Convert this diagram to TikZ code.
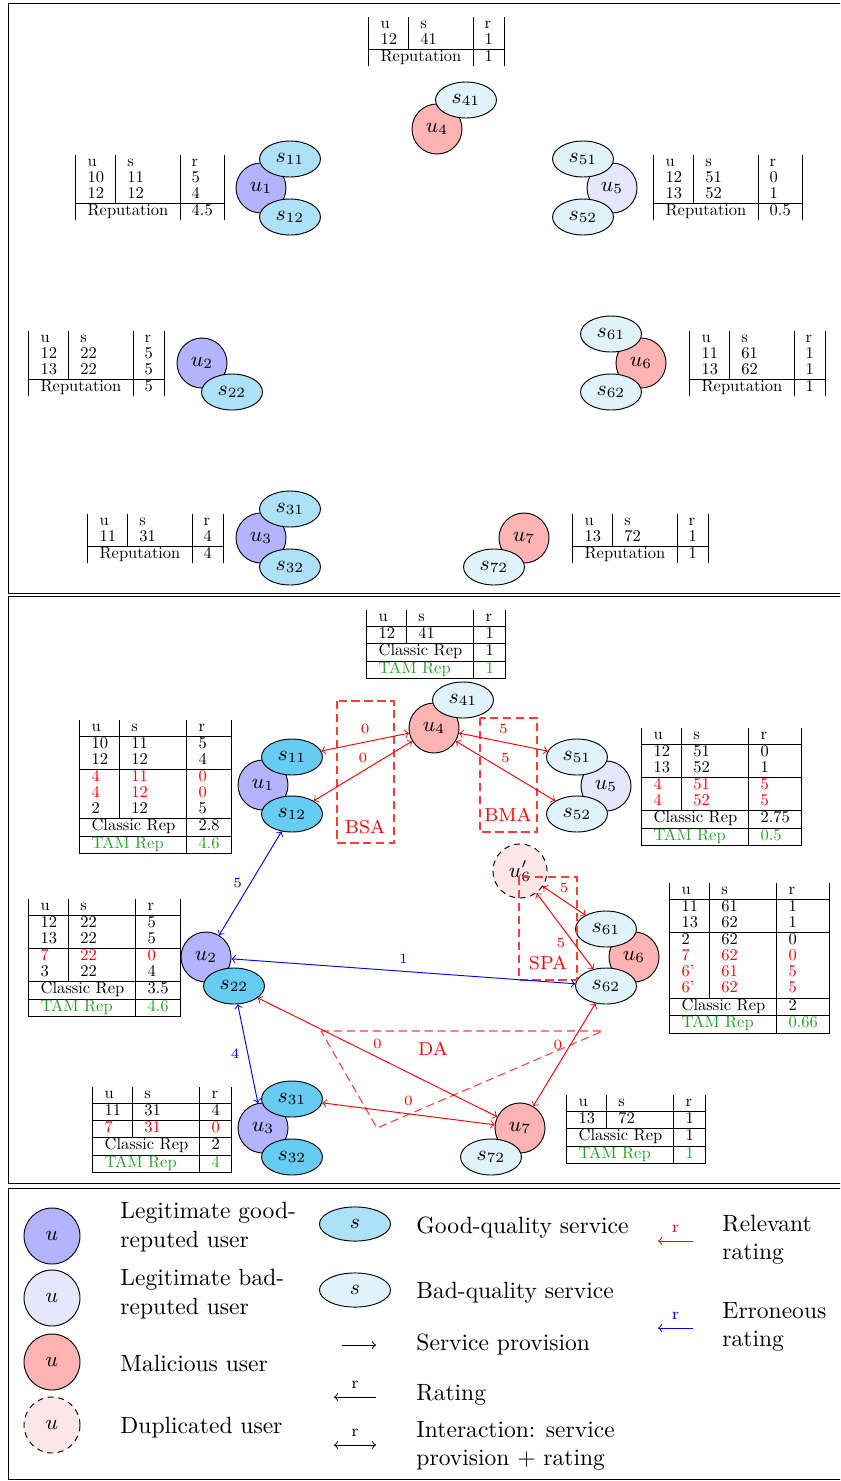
\documentclass[tikz,border=0pt]{standalone}
\usepackage{array}
\usepackage{graphicx}
\usetikzlibrary{shapes.geometric}
\definecolor{goodA}{RGB}{173,225,247}
\definecolor{goodB}{RGB}{102,204,242}
\definecolor{badS}{RGB}{224,243,250}
\definecolor{ugood}{RGB}{179,179,255}
\definecolor{ubad}{RGB}{230,230,255}
\definecolor{umal}{RGB}{255,179,179}
\definecolor{udup}{RGB}{255,230,230}
\definecolor{tamgreen}{RGB}{40,160,40}
\definecolor{boxred}{RGB}{255,60,60}
\newcommand\lblfont{\fontsize{6pt}{7pt}\selectfont}
\newcommand\myR[1]{\textcolor{red}{#1}}
\newcommand\myG[1]{\textcolor{tamgreen}{#1}}
\newcommand\mytab[1]{\scalebox{0.7}{\fontsize{10pt}{9.7pt}\selectfont\setlength\tabcolsep{6.8pt}\setlength\arrayrulewidth{0.57pt}\begin{tabular}{|l|l|l|}#1\end{tabular}}}
\tikzset{
  user/.style={circle, draw, minimum size=21.25pt, inner sep=0pt, font=\small},
  serv/.style={ellipse, draw, minimum width=25.9pt, minimum height=15.3pt, inner sep=0pt, font=\small},
  luser/.style={circle, draw, minimum size=23.8pt, inner sep=0pt, font=\small},
  lserv/.style={ellipse, draw, minimum width=30.2pt, minimum height=14.5pt, inner sep=0pt, font=\small},
  dup/.style={dash pattern=on 2.5pt off 2pt},
  tbl/.style={anchor=north west, inner sep=0pt},
  redge/.style={red, <->, >=to},
  bedge/.style={blue, <->, >=to},
  elbl/.style={font=\lblfont},
  attbox/.style={draw=boxred, line width=0.45pt, dash pattern=on 3.5pt off 2pt},
  attlbl/.style={text=red, font=\footnotesize},
  ltext/.style={anchor=west, inner sep=0pt, align=left},
}
\begin{document}
\begin{tikzpicture}[x=0.425pt, y=-0.425pt]
\useasboundingbox (0,0) rectangle (840,1481);
\clip (0,0) rectangle (840,1481);
% frames
\draw (8,3) rectangle (850,593);
\draw (8,596) rectangle (850,1183);
\draw (8,1188) rectangle (850,1479);

% ===== Panel 1 =====
\node[user, fill=umal] (u4a) at (437,129) {$u_4$};
\node[serv, fill=badS] (s41a) at (466,100) {$s_{41}$};
\node[user, fill=ugood] (u1a) at (261,188) {$u_1$};
\node[serv, fill=goodA] (s11a) at (290,159) {$s_{11}$};
\node[serv, fill=goodA] (s12a) at (290,217) {$s_{12}$};
\node[user, fill=ubad] (u5a) at (612,188) {$u_5$};
\node[serv, fill=badS] (s51a) at (583,159) {$s_{51}$};
\node[serv, fill=badS] (s52a) at (583,217) {$s_{52}$};
\node[user, fill=ugood] (u2a) at (202,363) {$u_2$};
\node[serv, fill=goodA] (s22a) at (232,392) {$s_{22}$};
\node[user, fill=umal] (u6a) at (641,363) {$u_6$};
\node[serv, fill=badS] (s61a) at (611,334) {$s_{61}$};
\node[serv, fill=badS] (s62a) at (611,392) {$s_{62}$};
\node[user, fill=ugood] (u3a) at (261,538) {$u_3$};
\node[serv, fill=goodA] (s31a) at (290,509) {$s_{31}$};
\node[serv, fill=goodA] (s32a) at (290,567) {$s_{32}$};
\node[user, fill=umal] (u7a) at (524,538) {$u_7$};
\node[serv, fill=badS] (s72a) at (494,567) {$s_{72}$};

\node[tbl] (t4a) at (368,17) {\mytab{u & s & r\\ 12 & 41 & 1\\ \hline \multicolumn{2}{|l|}{Reputation} & 1}};
\node[tbl] (t1a) at (75,155) {\mytab{u & s & r\\ 10 & 11 & 5\\ 12 & 12 & 4\\ \hline \multicolumn{2}{|l|}{Reputation} & 4.5}};
\node[tbl] (t5a) at (653,155) {\mytab{u & s & r\\ 12 & 51 & 0\\ 13 & 52 & 1\\ \hline \multicolumn{2}{|l|}{Reputation} & 0.5}};
\node[tbl] (t2a) at (28,331) {\mytab{u & s & r\\ 12 & 22 & 5\\ 13 & 22 & 5\\ \hline \multicolumn{2}{|l|}{Reputation} & 5}};
\node[tbl] (t6a) at (689,331) {\mytab{u & s & r\\ 11 & 61 & 1\\ 13 & 62 & 1\\ \hline \multicolumn{2}{|l|}{Reputation} & 1}};
\node[tbl] (t3a) at (87,514) {\mytab{u & s & r\\ 11 & 31 & 4\\ \hline \multicolumn{2}{|l|}{Reputation} & 4}};
\node[tbl] (t7a) at (572,514) {\mytab{u & s & r\\ 13 & 72 & 1\\ \hline \multicolumn{2}{|l|}{Reputation} & 1}};

% ===== Panel 2 =====
\node[user, fill=umal] (u4b) at (434,728) {$u_4$};
\node[serv, fill=badS] (s41b) at (463,700) {$s_{41}$};
\node[user, fill=ugood] (u1b) at (263,785) {$u_1$};
\node[serv, fill=goodB] (s11b) at (292,757) {$s_{11}$};
\node[serv, fill=goodB] (s12b) at (292,814) {$s_{12}$};
\node[user, fill=ubad] (u5b) at (606,786) {$u_5$};
\node[serv, fill=badS] (s51b) at (577,757) {$s_{51}$};
\node[serv, fill=badS] (s52b) at (577,814) {$s_{52}$};
\node[user, fill=ugood] (u2b) at (206,957) {$u_2$};
\node[serv, fill=goodB] (s22b) at (234,986) {$s_{22}$};
\node[user, fill=umal] (u6b) at (634,957) {$u_6$};
\node[serv, fill=badS] (s61b) at (606,929) {$s_{61}$};
\node[serv, fill=badS] (s62b) at (606,986) {$s_{62}$};
\node[user, dup, fill=udup, minimum size=23pt] (u6p) at (520,871) {$u'_6$};
\node[user, fill=ugood] (u3b) at (263,1128) {$u_3$};
\node[serv, fill=goodB] (s31b) at (292,1099) {$s_{31}$};
\node[serv, fill=goodB] (s32b) at (292,1157) {$s_{32}$};
\node[user, fill=umal] (u7b) at (520,1128) {$u_7$};
\node[serv, fill=badS] (s72b) at (491,1157) {$s_{72}$};

\node[tbl] (t4b) at (366,610) {\mytab{u & s & r\\ \hline 12 & 41 & 1\\ \hline \multicolumn{2}{|l|}{Classic Rep} & 1\\ \hline \multicolumn{2}{|l|}{\myG{TAM Rep}} & \myG{1}\\ \hline}};
\node[tbl] (t1b) at (79,720) {\mytab{u & s & r\\ \hline 10 & 11 & 5\\ 12 & 12 & 4\\ \hline \myR{4} & \myR{11} & \myR{0}\\ \myR{4} & \myR{12} & \myR{0}\\ 2 & 12 & 5\\ \hline \multicolumn{2}{|l|}{Classic Rep} & 2.8\\ \hline \multicolumn{2}{|l|}{\myG{TAM Rep}} & \myG{4.6}\\ \hline}};
\node[tbl] (t5b) at (641,728) {\mytab{u & s & r\\ \hline 12 & 51 & 0\\ 13 & 52 & 1\\ \hline \myR{4} & \myR{51} & \myR{5}\\ \myR{4} & \myR{52} & \myR{5}\\ \hline \multicolumn{2}{|l|}{Classic Rep} & 2.75\\ \hline \multicolumn{2}{|l|}{\myG{TAM Rep}} & \myG{0.5}\\ \hline}};
\node[tbl] (t2b) at (28,899) {\mytab{u & s & r\\ \hline 12 & 22 & 5\\ 13 & 22 & 5\\ \hline \myR{7} & \myR{22} & \myR{0}\\ 3 & 22 & 4\\ \hline \multicolumn{2}{|l|}{Classic Rep} & 3.5\\ \hline \multicolumn{2}{|l|}{\myG{TAM Rep}} & \myG{4.6}\\ \hline}};
\node[tbl] (t6b) at (669,883) {\mytab{u & s & r\\ \hline 11 & 61 & 1\\ 13 & 62 & 1\\ \hline 2 & 62 & 0\\ \myR{7} & \myR{62} & \myR{0}\\ \myR{6'} & \myR{61} & \myR{5}\\ \myR{6'} & \myR{62} & \myR{5}\\ \hline \multicolumn{2}{|l|}{Classic Rep} & 2\\ \hline \multicolumn{2}{|l|}{\myG{TAM Rep}} & \myG{0.66}\\ \hline}};
\node[tbl] (t3b) at (92,1087) {\mytab{u & s & r\\ \hline 11 & 31 & 4\\ \hline \myR{7} & \myR{31} & \myR{0}\\ \hline \multicolumn{2}{|l|}{Classic Rep} & 2\\ \hline \multicolumn{2}{|l|}{\myG{TAM Rep}} & \myG{4}\\ \hline}};
\node[tbl] (t7b) at (566,1095) {\mytab{u & s & r\\ \hline 13 & 72 & 1\\ \hline \multicolumn{2}{|l|}{Classic Rep} & 1\\ \hline \multicolumn{2}{|l|}{\myG{TAM Rep}} & \myG{1}\\ \hline}};

% attack boxes
\draw[attbox] (337,701) rectangle (394,843);
\node[attlbl] (bsa) at (365,827) {BSA};
\draw[attbox] (480,718) rectangle (537,832);
\node[attlbl] (bma) at (508,815) {BMA};
\draw[attbox] (519,877) rectangle (577,980);
\node[attlbl] (spa) at (548,963) {SPA};
\draw[attbox] (321,1031) -- (603,1031) -- (377,1128) -- cycle;
\node[attlbl] (da) at (433,1049) {DA};

% edges
\draw[redge] (s11b) -- node[elbl, above] {0} (u4b);
\draw[redge] (s12b) -- node[elbl, above] {0} (u4b);
\draw[redge] (u4b) -- node[elbl, above] {5} (s51b);
\draw[redge] (u4b) -- node[elbl, above] {5} (s52b);
\draw[redge] (u6p) -- node[elbl, above] {5} (s61b);
\draw[redge] (u6p) -- node[elbl, pos=0.65, left] {5} (s62b);
\draw[bedge] (u2b) -- node[elbl, above] {1} (s62b);
\draw[bedge] (s12b) -- node[elbl, left] {5} (u2b);
\draw[bedge] (s22b) -- node[elbl, left] {4} (u3b);
\draw[redge] (s22b) -- node[elbl, above] {0} (u7b);
\draw[redge] (s31b) -- node[elbl, above] {0} (u7b);
\draw[redge] (s62b) -- node[elbl, pos=0.4, left] {0} (u7b);

% ===== Legend =====
\node[luser, fill=ugood] (lu1) at (52,1236) {$u$};
\node[luser, fill=ubad] (lu2) at (52,1298) {$u$};
\node[luser, fill=umal] (lu3) at (52,1362) {$u$};
\node[luser, dup, fill=udup] (lu4) at (52,1425) {$u$};
\node[ltext] (lt1) at (120,1227) {Legitimate good-\\reputed user};
\node[ltext] (lt2) at (120,1294) {Legitimate bad-\\reputed user};
\node[ltext] (lt3) at (120,1363) {Malicious user};
\node[ltext] (lt4) at (120,1428) {Duplicated user};
\node[lserv, fill=goodA] (ls1) at (355,1224) {$s$};
\node[lserv, fill=badS] (ls2) at (355,1290) {$s$};
\node[ltext] (lt5) at (416,1228) {Good-quality service};
\node[ltext] (lt6) at (416,1293) {Bad-quality service};
\node[ltext] (lt7) at (416,1344) {Service provision};
\node[ltext] (lt8) at (416,1395) {Rating};
\node[ltext] (lt9) at (416,1446) {Interaction: service\\provision + rating};
\node[ltext] (lt10) at (722,1240) {Relevant\\rating};
\node[ltext] (lt11) at (722,1327) {Erroneous\\rating};
\coordinate (sp1) at (342,1345); \coordinate (sp2) at (376,1345);
\draw[->, >=to] (sp1) -- (sp2);
\coordinate (ra1) at (334,1397); \coordinate (ra2) at (376,1397);
\draw[<-, >=to] (ra1) -- node[above, font=\scriptsize] {r} (ra2);
\coordinate (ia1) at (334,1445); \coordinate (ia2) at (376,1445);
\draw[<->, >=to] (ia1) -- node[above, font=\scriptsize] {r} (ia2);
\coordinate (rr1) at (658,1241); \coordinate (rr2) at (693,1241);
\draw[<-, >=to, red] (rr1) -- node[above, font=\scriptsize] {r} (rr2);
\coordinate (er1) at (658,1328); \coordinate (er2) at (693,1328);
\draw[<-, >=to, blue] (er1) -- node[above, font=\scriptsize] {r} (er2);
\end{tikzpicture}
\end{document}
